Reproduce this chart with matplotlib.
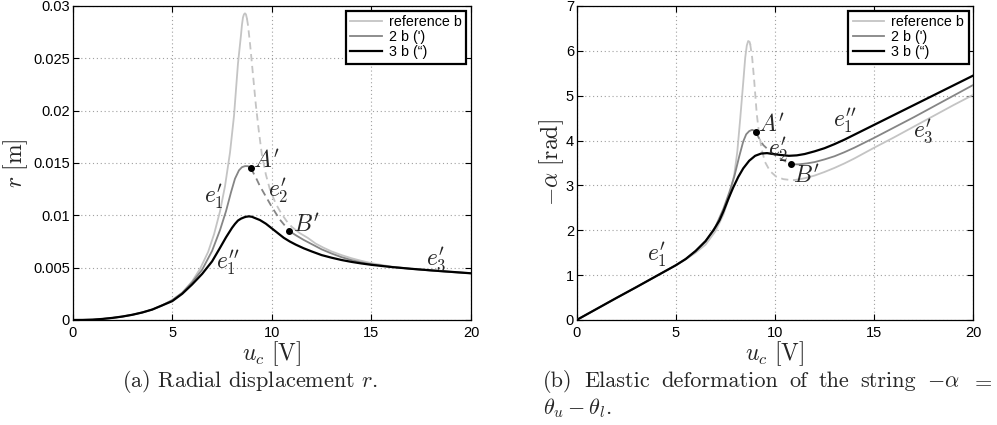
import matplotlib
matplotlib.use("Agg")
import matplotlib.pyplot as plt
from matplotlib.ticker import FixedLocator, FixedFormatter

plt.rcParams['font.family'] = ['Liberation Sans', 'DejaVu Sans']
plt.rcParams['mathtext.fontset'] = 'cm'

# ---------------- panel (a): radial displacement r ----------------
xticks = [0, 5, 10, 15, 20]
xtick_labels = ['0', '5', '10', '15', '20']
r_ticks = [0, 0.005, 0.01, 0.015, 0.02, 0.025, 0.03]
r_tick_labels = ['0', '0.005', '0.01', '0.015', '0.02', '0.025', '0.03']

# reference b: stable rise, unstable branch (dashed), stable tail
ref_r_rise_u = [0, 0.5, 1, 1.5, 2, 2.5, 3, 3.5, 4, 4.5, 5, 5.5, 6, 6.4, 6.8, 7.1,
                7.4, 7.65, 7.9, 8.1, 8.3, 8.45, 8.5, 8.55, 8.6, 8.65, 8.7, 8.75]
ref_r_rise_v = [0, 0.000005, 0.00003, 0.0001, 0.0002, 0.00033, 0.0005, 0.00072,
                0.001, 0.0014, 0.0019, 0.0026, 0.0037, 0.0049, 0.0065, 0.0082,
                0.0104, 0.0128, 0.016, 0.0195, 0.0245, 0.0272, 0.0282, 0.0289,
                0.0292, 0.0293, 0.0292, 0.0288]
ref_r_mid_u = [8.75, 8.8, 8.9, 9.0, 9.1, 9.2, 9.35, 9.5, 9.7, 9.9, 10.2, 10.5, 10.8, 11.0]
ref_r_mid_v = [0.0288, 0.0282, 0.0265, 0.0245, 0.0225, 0.0205, 0.018, 0.0158, 0.0139,
               0.0125, 0.0111, 0.0101, 0.0093, 0.0089]
ref_r_tail_u = [11.0, 11.4, 11.8, 12.2, 12.6, 13.0, 13.5, 14, 14.5, 15, 16, 17, 18, 19, 20]
ref_r_tail_v = [0.0089, 0.0083, 0.00785, 0.0073, 0.0069, 0.00655, 0.0062, 0.0059,
                0.00565, 0.00543, 0.0051, 0.0049, 0.00474, 0.0046, 0.00448]

# 2 b (')
b2_r_rise_u = [0, 0.5, 1, 1.5, 2, 2.5, 3, 3.5, 4, 4.5, 5, 5.5, 6, 6.5, 7.0, 7.4,
               7.7, 7.95, 8.15, 8.35, 8.5, 8.65, 8.8, 8.94]
b2_r_rise_v = [0, 0.000005, 0.00003, 0.0001, 0.0002, 0.00033, 0.0005, 0.00072,
               0.001, 0.0014, 0.0019, 0.0026, 0.0036, 0.0048, 0.0066, 0.0086,
               0.0104, 0.0122, 0.0135, 0.0143, 0.0146, 0.0147, 0.0147, 0.01452]
b2_r_mid_u = [8.94, 9.2, 9.4, 9.7, 10.0, 10.4, 10.88]
b2_r_mid_v = [0.01452, 0.0136, 0.0128, 0.0118, 0.0108, 0.0096, 0.0085]
b2_r_tail_u = [10.88, 11.2, 11.6, 12.0, 12.5, 13, 13.5, 14, 14.5, 15, 16, 17, 18, 19, 20]
b2_r_tail_v = [0.0085, 0.0081, 0.00765, 0.00725, 0.00675, 0.00635, 0.006, 0.00572,
               0.0055, 0.00532, 0.00508, 0.00488, 0.00472, 0.00458, 0.00446]

# 3 b ('')
b3_r_u = [0, 0.5, 1, 1.5, 2, 2.5, 3, 3.5, 4, 4.5, 5, 5.5, 6, 6.5, 7, 7.4, 7.7,
          8.0, 8.15, 8.3, 8.45, 8.6, 8.7, 8.85, 9.0, 9.1, 9.4, 9.7, 10.0, 10.3,
          10.6, 10.9, 11.2, 11.6, 12.0, 12.5, 13.0, 13.5, 14, 14.5, 15, 16, 17,
          18, 19, 20]
b3_r_v = [0, 0.000005, 0.00003, 0.0001, 0.0002, 0.00033, 0.0005, 0.00072, 0.001,
          0.0014, 0.0018, 0.0025, 0.0034, 0.0044, 0.0056, 0.0069, 0.0079, 0.0088,
          0.00918, 0.0095, 0.00968, 0.0098, 0.00986, 0.0099, 0.00986, 0.00978,
          0.00955, 0.0092, 0.00875, 0.0083, 0.00785, 0.0075, 0.0072, 0.00685,
          0.00655, 0.0062, 0.00595, 0.00573, 0.00555, 0.0054, 0.00527, 0.00506,
          0.00489, 0.00474, 0.0046, 0.00446]

r_A = (8.94, 0.01452)
r_B = (10.88, 0.0085)

# ---------------- panel (b): elastic deformation -alpha ----------------
a_ticks = [0, 1, 2, 3, 4, 5, 6, 7]
a_tick_labels = ['0', '1', '2', '3', '4', '5', '6', '7']

ref_a_rise_u = [0, 1, 2, 3, 4, 5, 5.5, 6, 6.5, 7, 7.4, 7.7, 7.95, 8.1, 8.25, 8.4,
                8.5, 8.58, 8.65, 8.72, 8.75]
ref_a_rise_v = [0, 0.245, 0.49, 0.73, 0.975, 1.22, 1.35, 1.5, 1.68, 1.98, 2.35,
                2.75, 3.25, 3.75, 4.5, 5.3, 5.85, 6.12, 6.22, 6.2, 6.15]
ref_a_mid_u = [8.75, 8.85, 8.95, 9.08, 9.2, 9.33, 9.5, 9.75, 10.05, 10.42, 10.8, 11.0]
ref_a_mid_v = [6.15, 5.85, 5.35, 4.6, 4.15, 3.8, 3.52, 3.32, 3.2, 3.14, 3.12, 3.12]
ref_a_tail_u = [11.0, 11.5, 12, 12.5, 13, 13.5, 14, 14.5, 15, 16, 17, 18, 19, 20]
ref_a_tail_v = [3.12, 3.16, 3.22, 3.3, 3.39, 3.49, 3.6, 3.72, 3.84, 4.07, 4.31,
                4.55, 4.79, 5.02]

b2_a_rise_u = [0, 1, 2, 3, 4, 5, 5.5, 6, 6.5, 7, 7.4, 7.7, 7.95, 8.2, 8.4, 8.55,
               8.7, 8.85, 8.95, 9.04]
b2_a_rise_v = [0, 0.245, 0.49, 0.73, 0.975, 1.22, 1.36, 1.53, 1.75, 2.08, 2.48,
               2.85, 3.2, 3.65, 3.98, 4.14, 4.21, 4.24, 4.22, 4.18]
b2_a_mid_u = [9.04, 9.2, 9.41, 9.7, 10.0, 10.3, 10.59, 10.79]
b2_a_mid_v = [4.18, 4.05, 3.9, 3.78, 3.68, 3.59, 3.52, 3.47]
b2_a_tail_u = [10.79, 11.2, 11.6, 12, 12.5, 13, 13.5, 14, 14.5, 15, 16, 17, 18, 19, 20]
b2_a_tail_v = [3.47, 3.47, 3.49, 3.52, 3.58, 3.65, 3.74, 3.84, 3.95, 4.06, 4.29,
               4.52, 4.76, 5.0, 5.24]

b3_a_u = [0, 1, 2, 3, 4, 5, 5.5, 6, 6.5, 6.9, 7.2, 7.4, 7.65, 7.9, 8.15, 8.4, 8.7,
          9.0, 9.3, 9.6, 9.9, 10.25, 10.7, 11.1, 11.5, 12, 12.5, 13, 13.5, 14,
          14.5, 15, 16, 17, 18, 19, 20]
b3_a_v = [0, 0.245, 0.49, 0.73, 0.975, 1.22, 1.36, 1.54, 1.76, 2.0, 2.22, 2.42,
          2.7, 2.96, 3.19, 3.38, 3.55, 3.66, 3.71, 3.72, 3.70, 3.68, 3.66, 3.67,
          3.70, 3.76, 3.83, 3.92, 4.02, 4.13, 4.24, 4.35, 4.57, 4.79, 5.01, 5.23,
          5.45]

a_A = (9.04, 4.18)
a_B = (10.79, 3.47)

series_names = ['reference b', "2 b (')", '3 b (\u201c)']

# ---------------- styling ----------------
c_ref = '#c4c4c4'
c_b2 = '#858585'
c_b3 = '#000000'
lw_thin = 1.3
lw_thick = 1.6
dash = (0, (4.0, 2.6))
grid_color = '#a0a0a0'
text_color = '#262626'
math_size = 17

fig = plt.figure(figsize=(9.97, 4.25), dpi=100)
ax1 = fig.add_axes([0.0729, 0.2471, 0.3995, 0.7388])
ax2 = fig.add_axes([0.5784, 0.2471, 0.3978, 0.7388])


def style_axes(ax, yticks, ylabels, ymax):
    ax.set_xlim(0, 20)
    ax.set_ylim(0, ymax)
    ax.xaxis.set_major_locator(FixedLocator(xticks))
    ax.xaxis.set_major_formatter(FixedFormatter(xtick_labels))
    ax.yaxis.set_major_locator(FixedLocator(yticks))
    ax.yaxis.set_major_formatter(FixedFormatter(ylabels))
    ax.tick_params(direction='in', length=4, width=0.8, top=True, right=True,
                   labelsize=10.5, colors='black')
    ax.tick_params(axis='x', pad=4)
    ax.tick_params(axis='y', pad=2)
    ax.grid(True, linestyle=(0, (1, 2.5)), color=grid_color, linewidth=0.8)
    for s in ax.spines.values():
        s.set_linewidth(0.9)
    ax.set_xlabel(r'$u_c\ [\mathrm{V}]$', fontsize=math_size, color=text_color,
                  labelpad=0)


def draw_series(ax, rise, mid, tail, color, lw, label):
    ax.plot(rise[0], rise[1], color=color, lw=lw, label=label,
            solid_joinstyle='round', zorder=3)
    if mid is not None:
        ax.plot(mid[0], mid[1], color=color, lw=lw, linestyle=dash, zorder=3)
    if tail is not None:
        ax.plot(tail[0], tail[1], color=color, lw=lw, solid_joinstyle='round', zorder=3)


# panel (a)
style_axes(ax1, r_ticks, r_tick_labels, 0.03)
draw_series(ax1, (ref_r_rise_u, ref_r_rise_v), (ref_r_mid_u, ref_r_mid_v),
            (ref_r_tail_u, ref_r_tail_v), c_ref, lw_thin, series_names[0])
draw_series(ax1, (b2_r_rise_u, b2_r_rise_v), (b2_r_mid_u, b2_r_mid_v),
            (b2_r_tail_u, b2_r_tail_v), c_b2, lw_thin, series_names[1])
draw_series(ax1, (b3_r_u, b3_r_v), None, None, c_b3, lw_thick, series_names[2])
ax1.plot([r_A[0], r_B[0]], [r_A[1], r_B[1]], 'o', color='black', ms=4, zorder=4)
ax1.set_ylabel(r'$r\ [\mathrm{m}]$', fontsize=math_size, color=text_color, labelpad=2)

lab = dict(fontsize=math_size, color=text_color, zorder=5)
ax1.text(9.05, 0.0146, r"$A'$", ha='left', va='baseline', **lab)
ax1.text(9.8, 0.0124, r"$e_2'$", ha='left', va='center', **lab)
ax1.text(11.05, 0.0091, r"$B'$", ha='left', va='center', **lab)
ax1.text(6.6, 0.0118, r"$e_1'$", ha='left', va='center', **lab)
ax1.text(7.2, 0.0055, r"$e_1''$", ha='left', va='center', **lab)
ax1.text(17.75, 0.0057, r"$e_3'$", ha='left', va='center', **lab)

# panel (b)
style_axes(ax2, a_ticks, a_tick_labels, 7)
draw_series(ax2, (ref_a_rise_u, ref_a_rise_v), (ref_a_mid_u, ref_a_mid_v),
            (ref_a_tail_u, ref_a_tail_v), c_ref, lw_thin, series_names[0])
draw_series(ax2, (b2_a_rise_u, b2_a_rise_v), (b2_a_mid_u, b2_a_mid_v),
            (b2_a_tail_u, b2_a_tail_v), c_b2, lw_thin, series_names[1])
draw_series(ax2, (b3_a_u, b3_a_v), None, None, c_b3, lw_thick, series_names[2])
ax2.plot([a_A[0], a_B[0]], [a_A[1], a_B[1]], 'o', color='black', ms=4, zorder=4)
ax2.set_ylabel(r'$-\alpha\ [\mathrm{rad}]$', fontsize=math_size, color=text_color,
               labelpad=0)

ax2.text(9.12, 4.2, r"$A'$", ha='left', va='baseline', **lab)
ax2.text(9.64, 4.13, r"$e_2'$", ha='left', va='top', **lab)
ax2.text(10.9, 3.2, r"$B'$", ha='left', va='center', **lab)
ax2.text(12.95, 4.45, r"$e_1''$", ha='left', va='center', **lab)
ax2.text(16.95, 4.2, r"$e_3'$", ha='left', va='center', **lab)
ax2.text(3.55, 1.45, r"$e_1'$", ha='left', va='center', **lab)

for ax in (ax1, ax2):
    leg = ax.legend(loc='upper right', fontsize=10.3, frameon=True, fancybox=False,
                    framealpha=1, edgecolor='black', borderaxespad=0.33,
                    handlelength=2.2, handletextpad=0.5, labelspacing=0.08,
                    borderpad=0.3)
    leg.get_frame().set_linewidth(1.6)
    for t in leg.get_texts():
        t.set_color('black')

# captions
cap = dict(fontsize=16, color=text_color, fontfamily='cmr10')
fig.text(0.2508, 0.102, r'(a) Radial displacement $r$.', ha='center', va='center', **cap)

words = ['(b)', 'Elastic', 'deformation', 'of', 'the', 'string', r'$-\alpha$', r'$=$']
x_left, x_right = 0.5449, 0.9957
texts = [fig.text(x_left, 0.102, w, ha='left', va='center', **cap) for w in words]
renderer = fig.canvas.get_renderer()
widths = [t.get_window_extent(renderer).width for t in texts]
fig_w = fig.bbox.width
gap = ((x_right - x_left) * fig_w - sum(widths)) / (len(words) - 1)
xpos = x_left * fig_w
for t, w in zip(texts, widths):
    t.set_x(xpos / fig_w)
    xpos += w + gap
fig.text(x_left, 0.04, r'$\theta_u - \theta_l$.', ha='left', va='center', **cap)

fig.savefig('out.png', dpi=100)
